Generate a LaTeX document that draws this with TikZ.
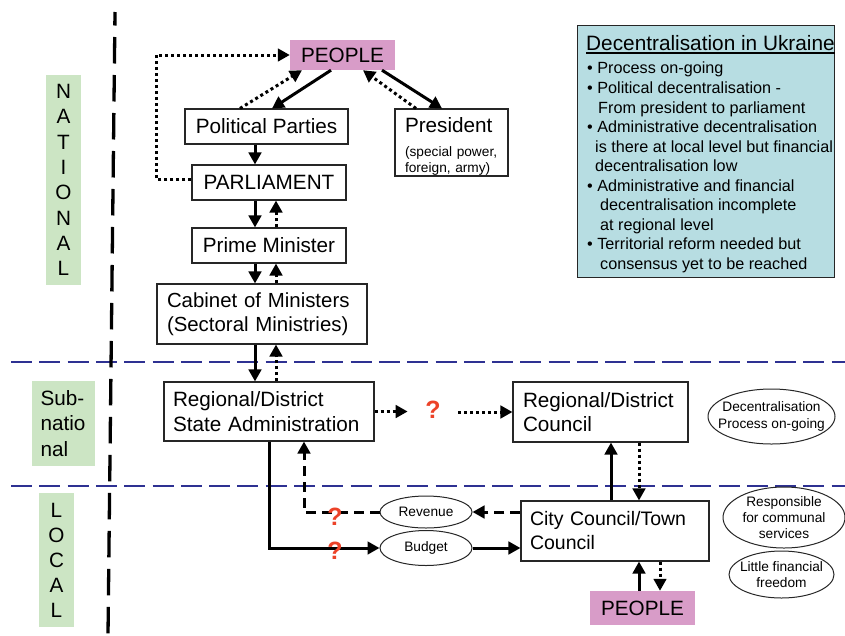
\documentclass[tikz,border=0pt]{standalone}
\usepackage{fontspec}
\setmainfont{Liberation Sans}
\usetikzlibrary{arrows.meta,shapes.geometric}

\definecolor{peoplepink}{RGB}{216,156,200}
\definecolor{levelgreen}{RGB}{204,229,196}
\definecolor{notebg}{RGB}{183,221,226}
\definecolor{levelline}{RGB}{46,49,146}
\definecolor{qred}{RGB}{236,66,40}

\newcommand\bigtxt{\fontsize{20.7}{24.5}\selectfont}
\newcommand\smalltxt{\fontsize{13.7}{16}\selectfont}
\newcommand\notetxt{\fontsize{16.2}{19.55}\selectfont}

\begin{document}
\begin{tikzpicture}[x=1pt,y=-1pt,
  box/.style={draw=black!85, line width=1.1pt, fill=white, inner sep=0pt, font=\bigtxt, align=center},
  leftbox/.style={box, align=left},
  crowd/.style={fill=peoplepink, inner sep=0pt, font=\bigtxt, minimum width=105pt},
  bubble/.style={ellipse, draw=black!85, line width=1pt, fill=white, inner xsep=-20pt, inner ysep=-10pt, font=\smalltxt, align=center},
  level/.style={fill=levelgreen, inner sep=0pt, align=center},
  query/.style={text=qred, font=\fontsize{25}{25}\selectfont\bfseries, inner ysep=0pt, inner xsep=0pt},
  link/.style={line width=3pt, -{Triangle[length=12pt,width=12.5pt]}},
  dotlink/.style={link, dash pattern=on 3pt off 3pt},
  dashlink/.style={link, dash pattern=on 10pt off 6pt},
]
\useasboundingbox (0,0) rectangle (845,635);

% level separators
\draw[levelline, line width=2.7pt, dash pattern=on 21pt off 7.3pt] (11,362) -- (845,362);
\draw[levelline, line width=2.7pt, dash pattern=on 21pt off 7.3pt] (11,486) -- (845,486);
\draw[black, line width=3.3pt, dash pattern=on 26.5pt off 11.5pt, dash phase=13pt] (115,12) -- (108,635);

% level labels
\node[level, minimum width=35, minimum height=210, font=\fontsize{20.7}{25.3}\selectfont] (natl) at (63.5,180) {N\\A\\T\\I\\O\\N\\A\\L};
\node[level, align=left, text width=46, inner xsep=8.5pt, minimum height=85, font=\fontsize{20.7}{25.5}\selectfont] (subnat) at (63.5,423.5) {Sub-\\natio\\nal};
\node[level, minimum width=35, minimum height=134, font=\fontsize{20.7}{25}\selectfont] (loc) at (56.5,560) {L\\O\\C\\A\\L};

% summary panel
\node[draw=black!85, line width=1pt, fill=notebg, minimum width=257, minimum height=252, inner sep=0pt] (note) at (705.5,151) {};
\node[anchor=base west, inner sep=0pt, font=\fontsize{20.8}{24}\selectfont] (notetitle) at (586,50) {Decentralisation in Ukraine};
\draw[line width=1.5pt] ([yshift=-3pt]notetitle.base west) -- ([yshift=-3pt]notetitle.base east);
\node[anchor=north west, inner sep=0pt, align=left, font=\notetxt] (notelist) at (587,62) {%
\textbullet\ Process on-going\\
\textbullet\ Political decentralisation -\\
\hspace*{11pt}From president to parliament\\
\textbullet\ Administrative decentralisation\\
\hspace*{8pt}is there at local level but financial\\
\hspace*{8pt}decentralisation low\\
\textbullet\ Administrative and financial\\
\hspace*{13pt}decentralisation incomplete\\
\hspace*{13pt}at regional level\\
\textbullet\ Territorial reform needed but\\
\hspace*{13pt}consensus yet to be reached};

% national level
\node[crowd, minimum height=30] (ptop) at (342.5,55) {PEOPLE};
\node[box, minimum width=163, minimum height=35] (parties) at (266.5,126.5) {Political Parties};
\node[box, font=\smalltxt, align=left, text width=93, inner xsep=10pt, minimum height=67] (pres) at (451.5,142.5)
  {{\bigtxt\rule{0pt}{22pt}President}\\[8pt](special power,\\foreign, army)};
\node[box, minimum width=154, minimum height=35] (parl) at (269,182.5) {PARLIAMENT};
\node[box, minimum width=154, minimum height=35] (pm) at (269,245.5) {Prime Minister};
\node[leftbox, text width=190, inner xsep=10pt, minimum height=60, font=\fontsize{20.4}{24}\selectfont] (cab) at (262,314)
  {\mbox{Cabinet of Ministers}\\\mbox{(Sectoral Ministries)}};

% sub-national level
\node[leftbox, text width=192, inner xsep=9pt, minimum height=59] (rsa) at (269,411.5)
  {\mbox{Regional/District}\\\mbox{State Administration}};
\node[leftbox, text width=155, inner xsep=10pt, minimum height=60] (rc) at (600.5,412)
  {\mbox{Regional/District}\\Council};
\node[bubble, minimum width=127, minimum height=55, font=\fontsize{13.7}{17}\selectfont] (decproc) at (771.5,416.5)
  {Decentralisation\\Process on-going};

% local level
\node[leftbox, text width=170, inner xsep=9pt, minimum height=60, font=\fontsize{19.5}{24}\selectfont] (city) at (615,531)
  {\mbox{City Council/Town}\\Council};
\node[crowd, minimum height=34] (pbot) at (642.5,608) {PEOPLE};
\node[bubble, minimum width=92, minimum height=32] (revenue) at (426,512) {Revenue};
\node[bubble, minimum width=92, minimum height=35] (budget) at (426,548) {Budget};
\node[bubble, minimum width=122, minimum height=61] (resp) at (784,517.5) {Responsible\\for communal\\services};
\node[bubble, minimum width=105, minimum height=47] (freedom) at (781.5,574.5) {Little financial\\freedom};

\node[query, inner xsep=17.5pt] (q1) at (433,410) {?};

% national connectors
\draw[dotlink] ([yshift=3.5pt]parl.west) -- ++(-35,0) |- (ptop.west);
\draw[link] ([xshift=-11.5pt]ptop.south) -- ([xshift=5.5pt]parties.north);
\draw[dotlink] ([xshift=-26.5pt]parties.north) -- ([xshift=-40.5pt]ptop.south);
\draw[link] ([xshift=39.5pt]ptop.south) -- ([xshift=-9.5pt]pres.north);
\draw[dotlink] ([xshift=-35.5pt]pres.north) -- ([xshift=20.5pt]ptop.south);
\draw[link] ([xshift=-11.5pt]parties.south) -- ([xshift=-14pt]parl.north);
\draw[link] ([xshift=-14pt]parl.south) -- ([xshift=-14pt]pm.north);
\draw[dotlink] ([xshift=7pt]pm.north) -- ([xshift=7pt]parl.south);
\draw[link] ([xshift=-14pt]pm.south) -- ([xshift=-7pt]cab.north);
\draw[dotlink] ([xshift=14pt]cab.north) -- ([xshift=7pt]pm.south);
\draw[link] ([xshift=-7pt]cab.south) -- ([xshift=-14pt]rsa.north);
\draw[dotlink] ([xshift=7pt]rsa.north) -- ([xshift=14pt]cab.south);

% sub-national and local connectors
\draw[dotlink] (rsa.east) -- (q1.west |- rsa.east);
\draw[dotlink] (q1.east |- rc.west) -- (rc.west);
\draw[link] ([xshift=-4pt]city.north) -- ([xshift=10.5pt]rc.south);
\draw[dotlink] ([xshift=38.5pt]rc.south) -- ([xshift=24pt]city.north);
\draw[dashlink] (city.west |- revenue.east) -- (revenue.east);
\draw[dashlink] (revenue.west) -| ([xshift=35pt]rsa.south);
\draw[link] (rsa.south) |- (budget.west);
\draw[link] (budget.east) -- (city.west |- budget.east);
\draw[link] ([xshift=-3.5pt]pbot.north) -- ([xshift=24pt]city.south);
\draw[dotlink] ([xshift=45pt]city.south) -- ([xshift=17.5pt]pbot.north);

\node[query] (q2) at (335,517) {?};
\node[query] (q3) at (335,551) {?};
\end{tikzpicture}
\end{document}
